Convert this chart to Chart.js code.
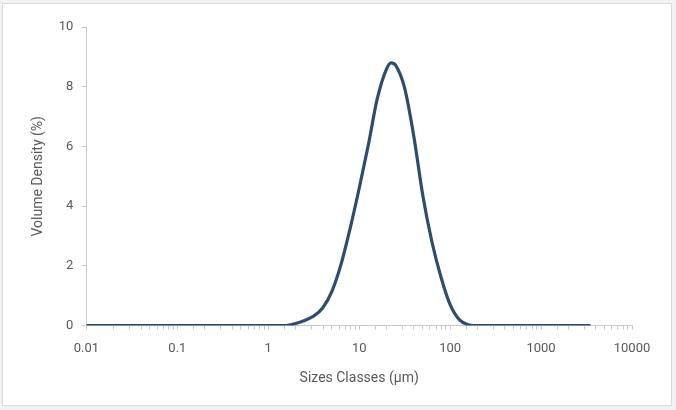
<!DOCTYPE html>
<html>
<head>
<meta charset="utf-8">
<script src="https://cdn.jsdelivr.net/npm/chart.js@4"></script>
<style>
  html, body { margin: 0; padding: 0; background: #f2f2f2; }
  #frame {
    position: absolute; left: 2px; top: 3px; width: 668px; height: 401px;
    background: #ffffff; border: 1px solid #dadada; overflow: hidden;
  }
  #psd-chart { position: absolute; left: -3px; top: -4px; }
</style>
</head>
<body>
<div id="frame">
  <canvas id="psd-chart" width="676" height="410"></canvas>
</div>
<script>
// particle size classes (um) and volume density (%)
const sizes = [0.01, 0.1, 1, 1.58, 2.0, 2.51, 3.16, 3.98, 5.01, 6.31, 7.94, 10,
  12.6, 15.8, 20, 22.4, 25.1, 31.6, 39.8, 50.1, 63.1, 79.4, 100, 126, 158, 200,
  1000, 3500];
const volumeDensity = [0, 0, 0, 0, 0.07, 0.17, 0.32, 0.6, 1.15, 2.05, 3.25, 4.6,
  6.05, 7.6, 8.6, 8.8, 8.72, 7.95, 6.35, 4.35, 2.8, 1.62, 0.7, 0.2, 0.03, 0,
  0, 0];
const xTickLabels = [0.01, 0.1, 1, 10, 100, 1000, 10000];
const yTicks = [0, 2, 4, 6, 8, 10];

const points = sizes.map(function (s, i) {
  return { x: s, y: volumeDensity[i] };
});

const axisFont = { family: "Roboto, 'Liberation Sans', sans-serif", size: 13 };

new Chart(document.getElementById("psd-chart"), {
  type: "line",
  data: {
    datasets: [
      {
        label: "Volume Density",
        data: points,
        borderColor: "#2c4c70",
        borderWidth: 3.2,
        pointRadius: 0,
        fill: false,
        cubicInterpolationMode: "monotone",
      },
    ],
  },
  options: {
    responsive: false,
    animation: false,
    devicePixelRatio: 1,
    layout: { padding: { left: 30, right: 44, top: 27, bottom: 23 } },
    plugins: { legend: { display: false }, tooltip: { enabled: false } },
    scales: {
      x: {
        type: "logarithmic",
        min: 0.01,
        max: 10000,
        border: { color: "#c8c8c8", width: 1 },
        grid: { drawOnChartArea: false, color: "#c8c8c8", tickLength: 4 },
        ticks: {
          color: "#595959",
          font: axisFont,
          autoSkip: false,
          maxRotation: 0,
          padding: 11,
          callback: function (v) {
            return xTickLabels.indexOf(Number(v)) >= 0 ? String(Number(v)) : "";
          },
        },
        title: {
          display: true,
          text: "Sizes Classes (µm)",
          color: "#595959",
          font: { family: axisFont.family, size: 14 },
          padding: { top: 3, bottom: 0 },
        },
      },
      y: {
        min: 0,
        max: 10,
        afterBuildTicks: function (axis) {
          axis.ticks = yTicks.map(function (v) { return { value: v }; });
        },
        border: { color: "#c8c8c8", width: 1 },
        grid: { drawOnChartArea: false, color: "#c8c8c8", tickLength: 5 },
        ticks: { color: "#595959", font: axisFont, padding: 8, autoSkip: false },
        title: {
          display: true,
          text: "Volume Density (%)",
          color: "#595959",
          font: { family: axisFont.family, size: 14 },
          padding: { top: 0, bottom: 4 },
        },
      },
    },
  },
});
</script>
</body>
</html>
